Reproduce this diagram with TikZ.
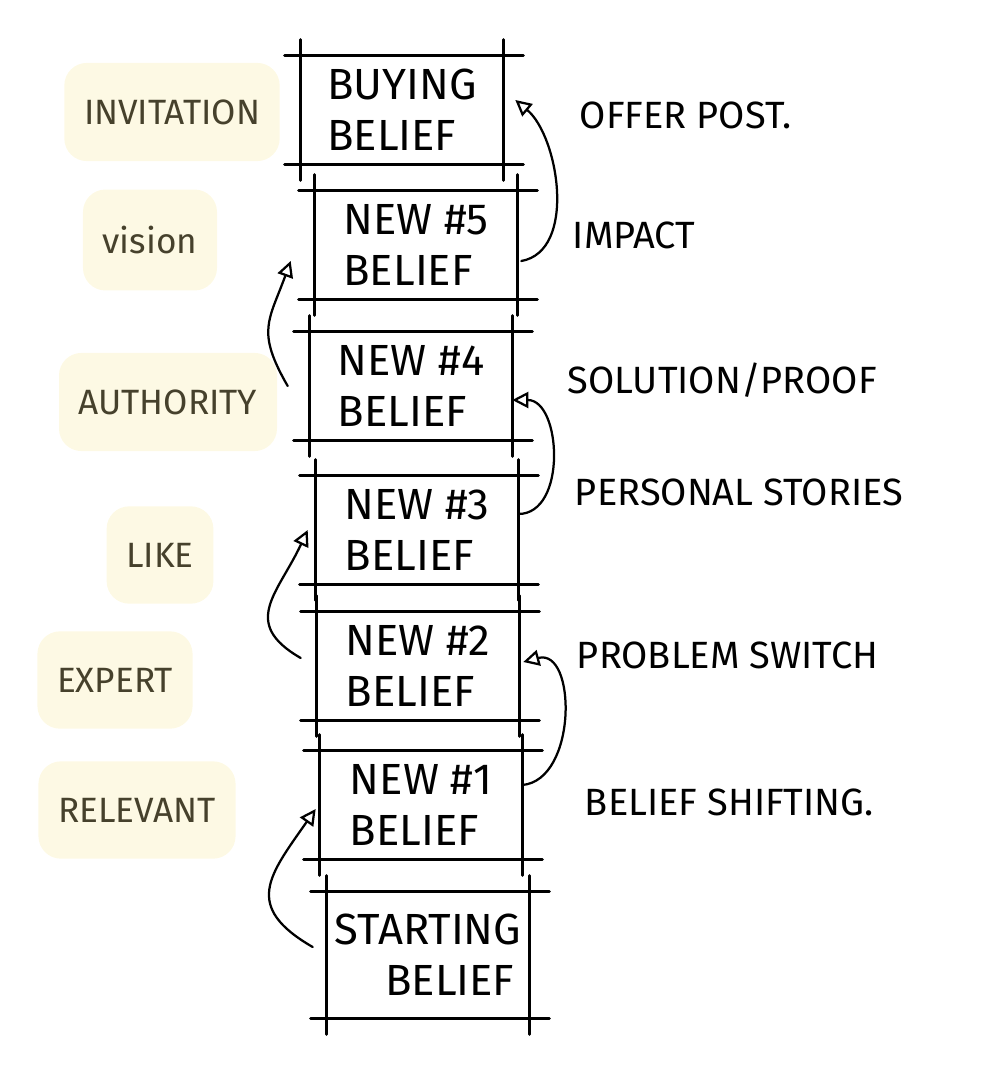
\documentclass[tikz,border=0pt]{standalone}
\usepackage{fontspec}
\setmainfont{Fira Sans}
\usetikzlibrary{positioning,arrows.meta}
\definecolor{hilite}{RGB}{253,249,228}
\definecolor{pencil}{RGB}{70,65,44}

\begin{document}
\begin{tikzpicture}[x=0.025cm, y=-0.025cm,
    belief/.style={minimum width=5.05cm, minimum height=2.7cm, align=left,
      inner sep=2pt, font=\fontsize{31}{36}\selectfont},
    edge/.style={line width=2.2pt, line cap=round},
    tag/.style={fill=hilite, text=pencil, rounded corners=16pt,
      inner xsep=14pt, inner ysep=26pt, font=\fontsize{25}{29}\selectfont},
    note/.style={anchor=west, font=\fontsize{27}{31}\selectfont},
    climb/.style={line width=1.6pt, line cap=round,
      -{Triangle[open,length=4mm,width=4mm]}}]
  \useasboundingbox (0,0) rectangle (1006,1076);

  % the belief ladder
  \node[belief] (buying) at (402,110) {BUYING\\BELIEF};
  \node[belief] (new5)   at (416,245) {NEW \#5\\BELIEF};
  \node[belief] (new4)   at (411,386) {NEW \#4\\BELIEF};
  \node[belief] (new3)   at (417,530) {NEW \#3\\BELIEF};
  \node[belief] (new2)   at (418,666) {NEW \#2\\BELIEF};
  \node[belief] (new1)   at (421,805) {NEW \#1\\BELIEF};
  \node[belief, minimum height=3.15cm, align=center] (start) at (428,955) {STARTING\\\quad BELIEF};
  \foreach \b in {buying,new5,new4,new3,new2,new1,start} {
    \draw[edge] ([xshift=-4mm]\b.north west) -- ([xshift=5mm]\b.north east);
    \draw[edge] ([xshift=-4mm]\b.south west) -- ([xshift=5mm]\b.south east);
    \draw[edge] ([yshift=4mm]\b.north west) -- ([yshift=-4mm]\b.south west);
    \draw[edge] ([yshift=4mm]\b.north east) -- ([yshift=-4mm]\b.south east);
  }

  % left side: what the reader feels
  \node[tag] (invite) at (172,112) {INVITATION};
  \node[tag] (vision) at (150,240) {vision};
  \node[tag] (auth)   at (168,402) {AUTHORITY};
  \node[tag] (like)   at (160,555) {LIKE};
  \node[tag] (expert) at (115,680) {EXPERT};
  \node[tag] (relev)  at (137,810) {RELEVANT};

  % right side: what the post does
  \node[note] (offer)   at (575,115) {OFFER POST.};
  \node[note] (impact)  at (568,235) {IMPACT};
  \node[note] (proof)   at (563,380) {SOLUTION/PROOF};
  \node[note] (stories) at (570,492) {PERSONAL STORIES};
  \node[note] (problem) at (572,655) {PROBLEM SWITCH};
  \node[note] (shifting) at (580,802) {BELIEF SHIFTING.};

  % steps up the ladder
  \draw[climb] ([xshift=-3.5mm,yshift=2mm]start.west) to[out=150, in=235, looseness=1.5] ([xshift=-1mm,yshift=-1mm]new1.west);
  \draw[climb] ([yshift=5mm]new1.east) to[out=5, in=15, looseness=1.15] ([xshift=1mm,yshift=1mm]new2.east);
  \draw[climb] ([xshift=-4mm,yshift=2mm]new2.west) to[out=150, in=245, looseness=1.4] ([xshift=-2mm]new3.west);
  \draw[climb] ([yshift=4mm]new3.east) to[out=0, in=0, looseness=1.1] ([yshift=-3.5mm]new4.east);
  \draw[climb] ([xshift=-5.5mm]new4.west) to[out=120, in=250, looseness=1.3] ([xshift=-6mm,yshift=-4mm]new5.west);
  \draw[climb] ([xshift=1mm,yshift=-4mm]new5.east) to[out=10, in=-40, looseness=0.9] ([xshift=3mm,yshift=2.5mm]buying.east);
\end{tikzpicture}
\end{document}
